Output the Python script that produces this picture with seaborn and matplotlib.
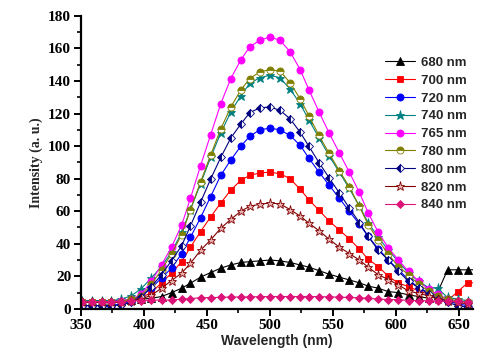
import matplotlib
matplotlib.use("Agg")
import matplotlib.pyplot as plt
import seaborn as sns
import pandas as pd
from matplotlib.ticker import MultipleLocator

# Wavelength grid (nm)
wl = [351, 359, 367, 374, 382, 390, 398, 406, 414, 422, 430, 437, 445, 453, 461,
      469, 477, 484, 492, 500, 508, 516, 524, 531, 539, 547, 555, 563, 571, 578,
      586, 594, 602, 610, 618, 626, 633, 641, 649, 657]
wl_ext = wl + [665]

nm680 = [5, 5, 5, 5, 5, 5.5, 6, 6.5, 7.6, 10, 12.7, 15.8, 19.5, 22.3, 25, 27, 28.5,
         29, 29.5, 30, 29.5, 28.5, 27, 25.6, 23.5, 21.3, 19.5, 17.8, 16, 14, 12.7,
         10.6, 10, 8.6, 7.6, 6.5, 10, 24, 24, 24, 24]
nm700 = [4, 4, 4, 4, 4, 5, 7, 10, 16, 22, 29, 38, 47.5, 56.5, 65, 73, 79, 82, 83.5,
         84, 83, 80, 73.5, 67, 60.5, 54, 48.5, 43, 36.7, 30.5, 26, 20, 15.8, 13.7,
         11, 9, 7, 5, 10.6, 16, 16]
nm720 = [2, 2, 2, 2, 3, 5, 8, 12.7, 19, 25, 34, 44, 56, 69, 82, 91.5, 100, 106, 110,
         111, 110, 106.5, 100.5, 92.5, 84, 76, 68, 60, 52, 44.5, 37, 30, 24, 18, 13,
         10, 7, 5, 3, 2]
nm740 = [5, 5, 5, 5, 6, 8, 12.5, 19, 26, 35, 47, 61, 77, 93, 108, 121, 131, 138.5,
         142, 143.5, 142, 135, 126, 116, 105, 94, 84, 74, 63, 53, 44, 36, 29, 22, 17,
         13, 12.7, 7, 6, 5]
nm765 = [4.5, 4.5, 4.5, 4.5, 5, 6, 9, 17, 27, 38, 51.5, 68, 88, 107, 126, 141.5, 153,
         161, 165, 167, 165, 158, 147, 134.5, 121, 108, 96, 84, 71.5, 59, 47, 37.5,
         30, 23, 17, 12, 9, 6, 5, 4]
nm780 = [4, 4, 4, 4, 4.5, 6, 8, 15, 24, 34, 45.5, 61, 78, 94.5, 110.5, 124, 134.5,
         141.5, 145.5, 147, 146, 139, 129, 118.5, 106.5, 95.5, 85, 75, 63, 51.6, 42.2,
         33.5, 26, 21, 15, 11, 8, 6, 5, 4]
nm800 = [2, 2, 2, 2, 2.5, 4, 7, 13.7, 21, 29.7, 38.8, 51, 65.5, 79.8, 93, 105, 113.6,
         120.5, 123.5, 124, 122, 116.8, 108.5, 99.8, 89.8, 80.5, 71.3, 62, 53, 44.5,
         36, 30, 23, 17, 13, 9, 6, 4, 2, 1]
nm820 = [4, 4, 4, 4, 4, 5, 6, 8.4, 12.7, 17.4, 22, 28, 36, 42.4, 49.5, 55, 60, 63,
         64.3, 65, 64.5, 61, 57, 52.6, 48, 42.8, 38, 34, 30, 25.6, 21, 18, 14.7, 11,
         9.5, 8, 6, 5, 4, 3]
nm840 = [4.5, 4.5, 4.5, 4.5, 4.5, 4.8, 5.1, 5.4, 5.4, 5.4, 6, 6.3, 6.9, 6.9, 7.1,
         7.3, 7.3, 7.4, 7.5, 7.6, 7.6, 7.6, 7.6, 7.6, 7.5, 7.4, 7.2, 7, 6.8, 6.5, 6,
         5.7, 5.7, 5.1, 5.1, 5, 4.8, 4.7, 4.7, 4.2]

labels = ["680 nm", "700 nm", "720 nm", "740 nm", "765 nm", "780 nm", "800 nm",
          "820 nm", "840 nm"]

sns.set_style("ticks")
plt.rcParams["font.family"] = ["DejaVu Sans"]

fig = plt.figure(figsize=(4.93, 3.60), dpi=100)
ax = fig.add_axes([0.164, 0.142, 0.795, 0.814])

series = [
    (wl_ext, nm680, dict(color="black", marker="^", mfc="black")),
    (wl_ext, nm700, dict(color="#FF0000", marker="s", mfc="#FF0000", ms=4.8)),
    (wl, nm720, dict(color="#0000FF", marker="o", mfc="#0000FF")),
    (wl, nm740, dict(color="#008080", marker="*", mfc="#008080", ms=6.5)),
    (wl, nm765, dict(color="#FF00FF", marker="o", mfc="#FF00FF")),
    (wl, nm780, dict(color="#808000", marker="o", mfc="#808000", fillstyle="top",
                     markerfacecoloralt="white")),
    (wl, nm800, dict(color="#000080", marker="D", mfc="#000080", fillstyle="left",
                     markerfacecoloralt="white", ms=4.3)),
    (wl, nm820, dict(color="#800000", marker="*", mfc="#E8B0B0", ms=6.5)),
    (wl, nm840, dict(color="#DC1478", marker="D", mfc="#DC1478", ms=4.3)),
]

for (x, y, kw), lab in zip(series, labels):
    kw = dict(kw)
    color = kw.pop("color")
    ms = kw.pop("ms", 5.1)
    df = pd.DataFrame({"Wavelength": x, "Intensity": y})
    sns.lineplot(data=df, x="Wavelength", y="Intensity", ax=ax, color=color,
                 linewidth=0.8, markersize=ms, markeredgecolor=color,
                 markeredgewidth=0.6, label=lab, sort=False, **kw)

ax.set_xlim(350, 661)
ax.set_ylim(0, 180)
ax.xaxis.set_major_locator(MultipleLocator(50))
ax.xaxis.set_minor_locator(MultipleLocator(25))
ax.yaxis.set_major_locator(MultipleLocator(20))
ax.yaxis.set_minor_locator(MultipleLocator(10))

for s in ["top", "right"]:
    ax.spines[s].set_visible(False)
for s in ["left", "bottom"]:
    ax.spines[s].set_linewidth(1.6)
    ax.spines[s].set_color("black")

ax.tick_params(which="major", direction="out", length=5, width=1.4, colors="black",
               pad=2)
ax.tick_params(which="minor", direction="out", length=3, width=1.2, colors="black")

for t in ax.get_xticklabels() + ax.get_yticklabels():
    t.set_fontfamily("Liberation Serif")
    t.set_fontweight("bold")
    t.set_fontsize(11)

ax.set_xlabel("Wavelength (nm)", fontfamily="Liberation Sans", fontweight="bold",
              fontsize=10, labelpad=2)
ax.set_ylabel("Intensity (a. u.)", fontfamily="Liberation Serif", fontweight="bold",
              fontsize=10, labelpad=4)

leg = ax.legend(loc="upper left", bbox_to_anchor=(0.781, 0.842),
                bbox_transform=fig.transFigure, frameon=False, borderpad=0,
                borderaxespad=0, handlelength=2.3, handletextpad=0.4,
                labelspacing=0.42, prop=dict(family="Liberation Sans",
                                             weight="bold", size=9.5))

fig.savefig("out.png", dpi=100, facecolor="white")
